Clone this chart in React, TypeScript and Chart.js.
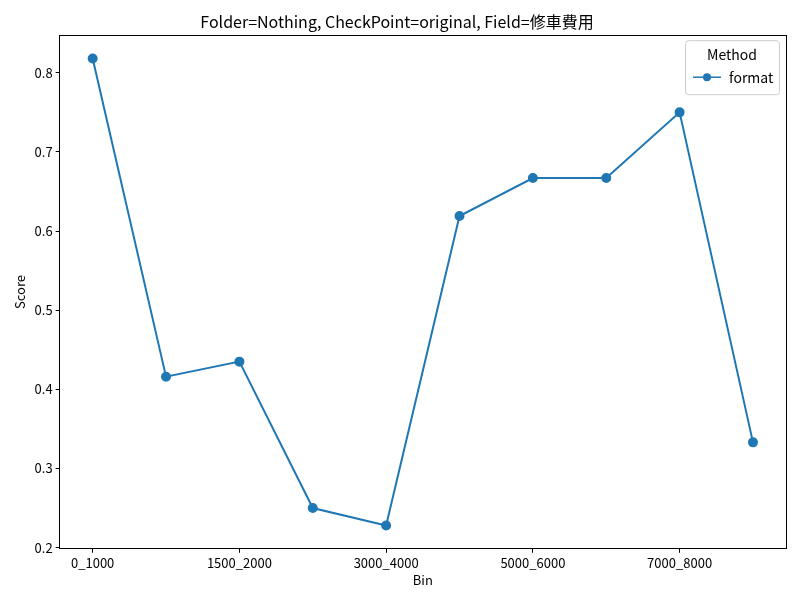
import { useEffect, useRef } from "react";
import Chart from "chart.js/auto";

const bins = ["0_1000", "1000_1500", "1500_2000", "2000_3000", "3000_4000", "4000_5000", "5000_6000", "6000_7000", "7000_8000", "8000_"];
const scores = [0.818, 0.416, 0.435, 0.25, 0.228, 0.619, 0.667, 0.667, 0.75, 0.333];
const seriesName = "format";
const FONT = "'Noto Sans CJK JP', 'Noto Sans', sans-serif";
const BLUE = "#1f77b4";

const legendBox = {
  id: "legendBox",
  afterDraw(chart: any) {
    const { ctx, chartArea } = chart;
    const w = 94, h = 54;
    const x = chartArea.right - w - 7, y = chartArea.top + 5;
    ctx.save();
    ctx.fillStyle = "rgba(255,255,255,0.8)";
    ctx.strokeStyle = "#cccccc";
    ctx.lineWidth = 1;
    ctx.beginPath();
    ctx.roundRect(x + 0.5, y + 0.5, w, h, 3);
    ctx.fill();
    ctx.stroke();
    ctx.fillStyle = "#000";
    ctx.font = `14px ${FONT}`;
    ctx.textAlign = "center";
    ctx.textBaseline = "middle";
    ctx.fillText("Method", x + w / 2, y + 14);
    ctx.strokeStyle = BLUE;
    ctx.lineWidth = 1.5;
    ctx.beginPath();
    ctx.moveTo(x + 8, y + 37);
    ctx.lineTo(x + 36, y + 37);
    ctx.stroke();
    ctx.fillStyle = BLUE;
    ctx.beginPath();
    ctx.arc(x + 22, y + 37, 4, 0, Math.PI * 2);
    ctx.fill();
    ctx.fillStyle = "#000";
    ctx.textAlign = "left";
    ctx.fillText(seriesName, x + 44, y + 37);
    ctx.restore();
  },
};

export default function App() {
  const canvasRef = useRef<HTMLCanvasElement | null>(null);

  useEffect(() => {
    if (!canvasRef.current) return;
    document.body.style.margin = "0";
    const tickFont = { family: FONT, size: 13 };
    const tickGrid = { display: true, drawOnChartArea: false, drawTicks: true, tickLength: 4, color: "#000" };
    const chart = new Chart(canvasRef.current, {
      type: "line",
      data: {
        datasets: [
          {
            label: seriesName,
            data: scores.map((v, i) => ({ x: i, y: v })),
            borderColor: BLUE,
            backgroundColor: BLUE,
            borderWidth: 2,
            pointRadius: 4,
            pointHoverRadius: 4,
            tension: 0,
          },
        ],
      },
      options: {
        responsive: false,
        animation: false,
        layout: { padding: { left: 8, right: 14, top: 4, bottom: 12 } },
        plugins: {
          legend: { display: false },
          tooltip: { enabled: false },
          title: {
            display: true,
            text: "Folder=Nothing, CheckPoint=original, Field=修車費用",
            color: "#000",
            font: { family: FONT, size: 16, weight: "normal" },
            padding: { top: 8, bottom: 4 },
          },
        },
        scales: {
          x: {
            type: "linear",
            min: -0.45,
            max: 9.45,
            afterBuildTicks: (axis: any) => {
              axis.ticks = bins.map((_, i) => ({ value: i })).filter((t) => t.value % 2 === 0);
            },
            ticks: {
              color: "#000",
              font: tickFont,
              maxRotation: 0,
              autoSkip: false,
              padding: 2,
              callback: (v: any) => bins[v as number] ?? "",
            },
            grid: tickGrid,
            border: { color: "#000" },
            title: { display: true, text: "Bin", color: "#000", font: tickFont, padding: 0 },
          },
          y: {
            min: 0.1985,
            max: 0.8475,
            afterBuildTicks: (axis: any) => {
              axis.ticks = [0.2, 0.3, 0.4, 0.5, 0.6, 0.7, 0.8].map((value) => ({ value }));
            },
            ticks: { color: "#000", font: tickFont, padding: 3, callback: (v: any) => Number(v).toFixed(1) },
            grid: tickGrid,
            border: { color: "#000" },
            title: { display: true, text: "Score", color: "#000", font: tickFont, padding: 4 },
          },
          x2: { position: "top", display: true, ticks: { display: false }, grid: { display: false, drawTicks: false }, border: { color: "#000" } },
          y2: { position: "right", display: true, ticks: { display: false }, grid: { display: false, drawTicks: false }, border: { color: "#000" } },
        },
      } as any,
      plugins: [legendBox],
    });
    return () => chart.destroy();
  }, []);

  return <canvas ref={canvasRef} width={800} height={600} />;
}
